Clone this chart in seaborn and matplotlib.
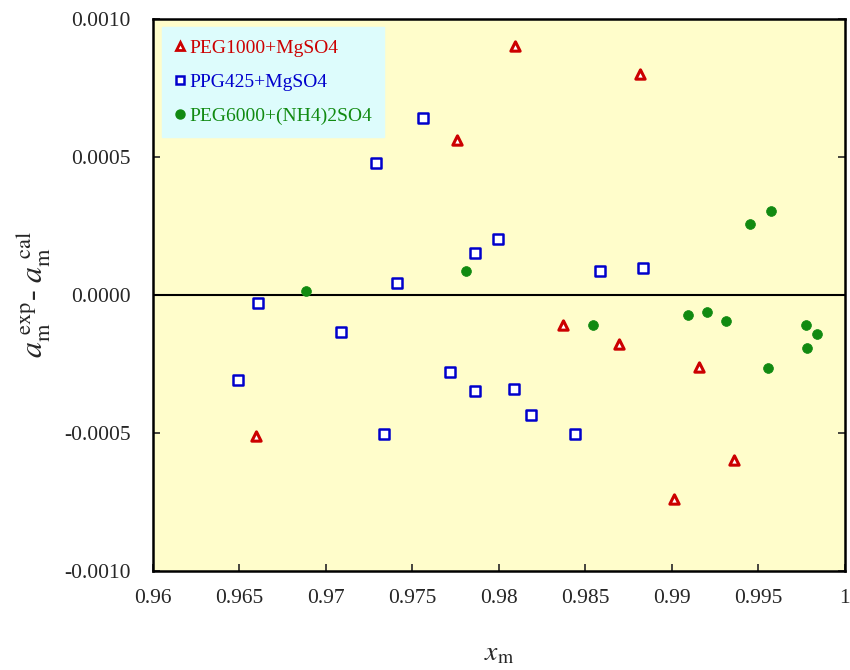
import pandas as pd
import numpy as np
import matplotlib
matplotlib.use("Agg")
import matplotlib.pyplot as plt
import seaborn as sns
from matplotlib.lines import Line2D

# --- dados ---
peg1000_x = [0.96595, 0.97757, 0.98094, 0.98369, 0.98696, 0.98816, 0.99014, 0.99154, 0.99356]
peg1000_y = [-0.000511, 0.000562, 0.000900, -0.000109, -0.000178, 0.000800, -0.000739, -0.000262, -0.000600]

ppg425_x = [0.96493, 0.96608, 0.97084, 0.97291, 0.97336, 0.97413, 0.97561, 0.97715,
            0.97859, 0.97859, 0.97994, 0.98086, 0.98187, 0.98442, 0.98585, 0.98831]
ppg425_y = [-0.000308, -0.000030, -0.000135, 0.000479, -0.000505, 0.000042, 0.000640, -0.000278,
            0.000151, -0.000347, 0.000202, -0.000342, -0.000435, -0.000504, 0.000085, 0.000097]

peg6000_x = [0.96883, 0.97811, 0.98546, 0.99095, 0.99203, 0.99310, 0.99453, 0.99553,
             0.99572, 0.99774, 0.99780, 0.99841]
peg6000_y = [0.000012, 0.000087, -0.000109, -0.000072, -0.000064, -0.000094, 0.000256, -0.000266,
             0.000302, -0.000109, -0.000191, -0.000143]

series_names = ["PEG1000+MgSO4", "PPG425+MgSO4", "PEG6000+(NH4)2SO4"]
x_ticks = [0.96, 0.965, 0.97, 0.975, 0.98, 0.985, 0.99, 0.995, 1.0]
x_tick_labels = ["0.96", "0.965", "0.97", "0.975", "0.98", "0.985", "0.99", "0.995", "1"]
y_ticks = [-0.0010, -0.0005, 0.0, 0.0005, 0.0010]

df = pd.concat([
    pd.DataFrame({"x": peg1000_x, "y": peg1000_y, "sistema": series_names[0]}),
    pd.DataFrame({"x": ppg425_x, "y": ppg425_y, "sistema": series_names[1]}),
    pd.DataFrame({"x": peg6000_x, "y": peg6000_y, "sistema": series_names[2]}),
])

sns.set_style("ticks")
plt.rcParams["font.family"] = ["Liberation Serif", "DejaVu Serif"]
plt.rcParams["mathtext.fontset"] = "stix"

fig = plt.figure(figsize=(8.5, 6.7), dpi=100)
ax = fig.add_axes([0.18, 0.148, 0.814, 0.824])
ax.set_facecolor("#FFFDCB")

red = "#CC0000"
blue = "#0000CC"
green = "#118A11"

ax.axhline(0, color="black", lw=1.5, zorder=1)

sub = df[df.sistema == series_names[0]]
sns.scatterplot(data=sub, x="x", y="y", marker="^", s=45, facecolor="white",
                edgecolor=red, linewidth=2.2, ax=ax, zorder=3)
sub = df[df.sistema == series_names[1]]
sns.scatterplot(data=sub, x="x", y="y", marker="s", s=42, facecolor="white",
                edgecolor=blue, linewidth=1.8, ax=ax, zorder=3)
sub = df[df.sistema == series_names[2]]
sns.scatterplot(data=sub, x="x", y="y", marker="o", s=50, color=green,
                edgecolor=green, linewidth=0.5, ax=ax, zorder=3)

ax.set_xlim(0.96, 1.0)
ax.set_ylim(-0.0010, 0.0010)
ax.set_xticks(x_ticks)
ax.set_xticklabels(x_tick_labels)
ax.set_yticks(y_ticks)
ax.set_yticklabels([f"{v:.4f}" for v in y_ticks])
ax.tick_params(direction="in", length=5, width=1.2, labelsize=15.5, right=True)
ax.tick_params(axis="y", pad=16)
ax.tick_params(axis="x", pad=13)

for s in ax.spines.values():
    s.set_linewidth(1.8)
    s.set_color("black")

ax.set_xlabel(r"$x_{\rm m}$", fontsize=20, labelpad=24)
ax.set_ylabel(r"$a_{\rm m}^{\rm \ exp}$- $a_{\rm m}^{\rm \ cal}$", fontsize=23, labelpad=8)

# legenda manual (caixa ciano, texto colorido)
handles = [
    Line2D([], [], marker="^", ls="", ms=6, mfc="white", mec=red, mew=2),
    Line2D([], [], marker="s", ls="", ms=6, mfc="white", mec=blue, mew=1.8),
    Line2D([], [], marker="o", ls="", ms=6.5, mfc=green, mec=green),
]
leg = ax.legend(handles, series_names, loc="upper left", bbox_to_anchor=(0.005, 0.995),
                frameon=True, fancybox=False, fontsize=14, handlelength=0.6,
                handletextpad=0.2, labelspacing=0.85, borderpad=0.6, borderaxespad=0.3)
leg.get_frame().set_facecolor("#DDFCFC")
leg.get_frame().set_edgecolor("#DDFCFC")
leg.get_frame().set_alpha(1)
for t, c in zip(leg.get_texts(), [red, blue, green]):
    t.set_color(c)

fig.savefig("out.png", dpi=100)
